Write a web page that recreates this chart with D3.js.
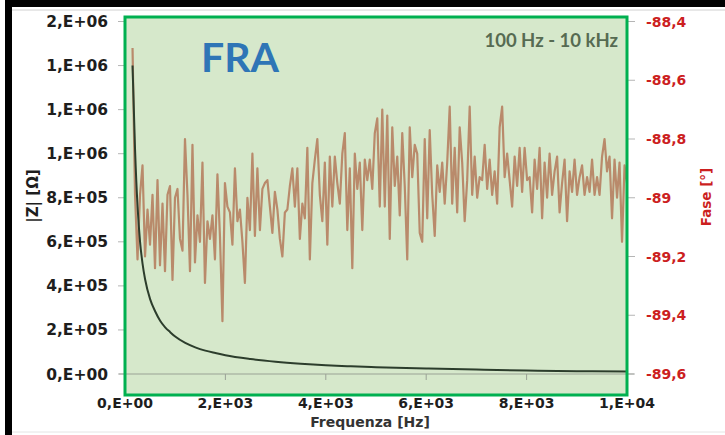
<!DOCTYPE html>
<html>
<head>
<meta charset="utf-8">
<script src="https://d3js.org/d3.v7.min.js"></script>
<style>
  body { margin: 0; background: #fff; }
  svg text { font-family: "DejaVu Sans", sans-serif; font-weight: bold; }
</style>
</head>
<body>
<svg id="chart" width="725" height="435"></svg>
<script>

// |Z| curve (Hz, ohm)
var zFreq = [150, 200, 250, 300, 350, 400, 500, 600, 700, 800, 900, 1000, 1200, 1400, 1600, 1800, 2000,
  2500, 3000, 3500, 4000, 4500, 5000, 6000, 7000, 8000, 9000, 10000];
var zValues = [1.40e6, 1.02e6, 7.6e5, 6.0e5, 5.0e5, 4.3e5, 3.4e5, 2.85e5, 2.42e5, 2.12e5, 1.90e5, 1.70e5, 1.41e5,
  1.21e5, 1.06e5, 9.5e4, 8.5e4, 6.8e4, 5.6e4, 4.7e4, 4.0e4, 3.5e4, 3.1e4, 2.5e4, 2.0e4, 1.6e4, 1.3e4, 1.1e4];

// phase sweep (deg), one sample per step starting at phaseStartHz
var phaseStartHz = 150, phaseStepHz = 49.75;
var phaseValues = [
  -88.49, -88.99, -89.21, -88.99, -88.89, -89.20, -89.04, -89.16, -88.99, -89.24,
  -88.94, -89.23, -89.02, -89.25, -88.99, -88.96, -89.28, -89.00, -88.97, -89.14,
  -89.18, -88.80, -88.99, -89.25, -88.82, -89.22, -89.06, -89.15, -88.88, -89.29,
  -89.08, -89.14, -89.06, -89.21, -88.92, -89.13, -89.42, -88.95, -89.03, -89.05,
  -89.16, -88.90, -89.08, -89.04, -89.15, -89.29, -89.00, -89.11, -88.85, -89.13,
  -88.90, -89.11, -88.97, -88.95, -88.94, -89.03, -89.12, -88.98, -89.04, -89.14,
  -89.20, -89.05, -89.04, -88.96, -88.90, -89.03, -88.90, -89.14, -89.02, -89.07,
  -88.83, -89.21, -88.95, -88.87, -88.80, -88.99, -89.08, -88.88, -89.16, -88.86,
  -89.03, -88.86, -88.95, -89.02, -88.85, -88.78, -89.11, -88.90, -89.24, -88.85,
  -88.97, -88.88, -89.11, -88.87, -88.94, -88.87, -88.97, -88.78, -88.73, -89.03,
  -88.70, -89.03, -88.72, -89.14, -88.76, -88.96, -88.86, -89.06, -88.78, -88.96,
  -89.21, -88.76, -88.93, -88.82, -88.85, -89.12, -89.15, -88.80, -89.07, -88.77,
  -88.99, -89.13, -88.89, -88.98, -88.88, -89.02, -88.88, -88.69, -89.02, -88.83,
  -89.05, -88.76, -88.88, -89.08, -88.94, -88.69, -88.99, -88.86, -89.00, -88.93,
  -88.94, -88.82, -88.97, -88.87, -88.99, -88.91, -89.02, -88.76, -88.69, -88.93,
  -88.85, -88.94, -89.03, -88.86, -88.96, -88.83, -88.98, -88.83, -88.94, -88.93,
  -89.05, -88.87, -88.97, -88.83, -89.07, -88.88, -89.00, -88.85, -88.99, -88.91,
  -88.86, -89.05, -88.95, -88.87, -89.08, -88.91, -88.98, -88.87, -88.99, -88.93,
  -88.89, -88.99, -88.93, -88.98, -88.87, -88.99, -88.93, -88.99, -88.86, -88.80,
  -88.91, -88.86, -89.07, -88.87, -89.00, -88.88, -89.15, -88.89, -88.95
];

var xTicks = [0, 2000, 4000, 6000, 8000, 10000];
var xTickLabels = ["0,E+00", "2,E+03", "4,E+03", "6,E+03", "8,E+03", "1,E+04"];
var zTicks = [0, 2e5, 4e5, 6e5, 8e5, 1e6, 1.2e6, 1.4e6, 1.6e6];
var zTickLabels = ["0,E+00", "2,E+05", "4,E+05", "6,E+05", "8,E+05", "1,E+06", "1,E+06", "1,E+06", "2,E+06"];
var phaseTicks = [-88.4, -88.6, -88.8, -89.0, -89.2, -89.4, -89.6];
var phaseTickLabels = ["-88,4", "-88,6", "-88,8", "-89", "-89,2", "-89,4", "-89,6"];

var svg = d3.select("#chart");

var x = d3.scaleLinear().domain([0, 10000]).range([125, 627]);
var yZ = d3.scaleLinear().domain([0, 1.6e6]).range([374, 21.5]);
var yP = d3.scaleLinear().domain([-89.6, -88.4]).range([374, 21.5]);

// outer frame bits
svg.append("rect").attr("x", 5).attr("y", 0).attr("width", 720).attr("height", 7).attr("fill", "#000");
svg.append("rect").attr("x", 5).attr("y", 0).attr("width", 7).attr("height", 435).attr("fill", "#000");
svg.append("line").attr("x1", 12).attr("x2", 725).attr("y1", 10).attr("y2", 10).attr("stroke", "#cfcfcf");
svg.append("line").attr("x1", 12).attr("x2", 725).attr("y1", 432).attr("y2", 432).attr("stroke", "#e4e4e4");

// green plot box fill
svg.append("rect").attr("x", 125).attr("y", 17).attr("width", 502).attr("height", 378)
  .attr("fill", "#d6e8cb");

// axes lines & ticks
var axisColor = "#9aa296";
svg.append("line").attr("x1", 119).attr("x2", 634).attr("y1", yZ(0)).attr("y2", yZ(0))
  .attr("stroke", axisColor).attr("stroke-width", 1.2);

svg.selectAll(".xt").data(xTicks).enter().append("line")
  .attr("x1", function(d){ return x(d); }).attr("x2", function(d){ return x(d); })
  .attr("y1", yZ(0)).attr("y2", yZ(0) + 6).attr("stroke", axisColor);

svg.selectAll(".zt").data(zTicks).enter().append("line")
  .attr("x1", 118).attr("x2", 124)
  .attr("y1", function(d){ return yZ(d); }).attr("y2", function(d){ return yZ(d); })
  .attr("stroke", "#b5b5b5");

svg.selectAll(".pt").data(phaseTicks).enter().append("line")
  .attr("x1", 628).attr("x2", 635)
  .attr("y1", function(d){ return yP(d); }).attr("y2", function(d){ return yP(d); })
  .attr("stroke", "#b5b5b5");

// tick labels
svg.selectAll(".xl").data(xTicks).enter().append("text")
  .attr("x", function(d){ return x(d); }).attr("y", 408)
  .attr("text-anchor", "middle").attr("font-size", 14).attr("fill", "#1e1e1e")
  .text(function(d, i){ return xTickLabels[i]; });

svg.selectAll(".zl").data(zTicks).enter().append("text")
  .attr("x", 108).attr("y", function(d){ return yZ(d) + 5.5; })
  .attr("text-anchor", "end").attr("font-size", 15.5).attr("fill", "#1e1e1e")
  .text(function(d, i){ return zTickLabels[i]; });

svg.selectAll(".pl").data(phaseTicks).enter().append("text")
  .attr("x", 646).attr("y", function(d){ return yP(d) + 5; })
  .attr("font-size", 14).attr("fill", "#cc1f1f")
  .text(function(d, i){ return phaseTickLabels[i]; });

// axis titles
svg.append("text").attr("x", 370).attr("y", 427).attr("text-anchor", "middle")
  .attr("font-size", 14).attr("fill", "#333").text("Frequenza [Hz]");
svg.append("text").attr("transform", "translate(38,196) rotate(-90)").attr("text-anchor", "middle")
  .attr("font-size", 15).attr("fill", "#1e1e1e").text("|Z| [Ω]");
svg.append("text").attr("transform", "translate(711,197) rotate(-90)").attr("text-anchor", "middle")
  .attr("font-size", 13.5).attr("fill", "#cc1f1f").text("Fase [°]");

// phase line
var phaseLine = d3.line()
  .x(function(d, i){ return x(phaseStartHz + i * phaseStepHz); })
  .y(function(d){ return yP(d); });
svg.append("path").datum(phaseValues).attr("d", phaseLine)
  .attr("fill", "none").attr("stroke", "#b98a6b").attr("stroke-width", 2.2).attr("stroke-linejoin", "round");

// |Z| line
var zLine = d3.line()
  .x(function(d, i){ return x(zFreq[i]); })
  .y(function(d){ return yZ(d); })
  .curve(d3.curveMonotoneX);
svg.append("path").datum(zValues).attr("d", zLine)
  .attr("fill", "none").attr("stroke", "#2c3d2c").attr("stroke-width", 2);

// green border on top
svg.append("rect").attr("x", 125).attr("y", 17).attr("width", 502).attr("height", 378)
  .attr("fill", "none").attr("stroke", "#00b050").attr("stroke-width", 3);

// annotations
svg.append("text").attr("x", 240).attr("y", 72).attr("text-anchor", "middle")
  .style("font-family", "Lato, sans-serif").attr("font-size", 41).attr("fill", "#2e75b6").text("FRA");
svg.append("text").attr("x", 618).attr("y", 47).attr("text-anchor", "end")
  .style("font-family", "Lato, sans-serif").attr("font-size", 18.5).attr("fill", "#566b52").text("100 Hz - 10 kHz");

</script>
</body>
</html>
